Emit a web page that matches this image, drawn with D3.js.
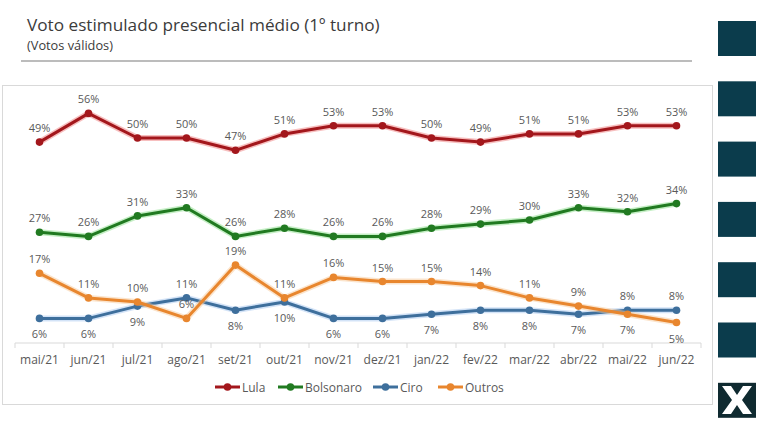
<!DOCTYPE html>
<html><head><meta charset="utf-8">
<script src="https://cdn.jsdelivr.net/npm/d3@7/dist/d3.min.js"></script>
<style>
html,body{margin:0;padding:0;background:#fff;}
svg{display:block;font-family:"Open Sans",sans-serif;}
</style></head><body>
<script>
const months = ["mai/21","jun/21","jul/21","ago/21","set/21","out/21","nov/21","dez/21","jan/22","fev/22","mar/22","abr/22","mai/22","jun/22"];
const lula      = [49,56,50,50,47,51,53,53,50,49,51,51,53,53];
const bolsonaro = [27,26,31,33,26,28,26,26,28,29,30,33,32,34];
const ciro      = [6,6,9,11,8,10,6,6,7,8,8,7,8,8];
const outros    = [17,11,10,6,19,11,16,15,15,14,11,9,7,5];
const seriesNames = ["Lula","Bolsonaro","Ciro","Outros"];
const title = "Voto estimulado presencial médio (1º turno)";
const subtitle = "(Votos válidos)";

const W = 768, H = 425;
const svg = d3.select("body").append("svg").attr("width", W).attr("height", H);

function fitText(sel, width) {
  const len = sel.node().getComputedTextLength();
  const fs = parseFloat(sel.attr("font-size"));
  sel.attr("font-size", fs * width / len);
}

// Title
const t = svg.append("text").attr("x", 27).attr("y", 31).attr("font-size", 18)
  .attr("fill", "#3b3b3b").text(title);
fitText(t, 353);
const st = svg.append("text").attr("x", 27).attr("y", 50).attr("font-size", 12)
  .attr("fill", "#3b3b3b").text(subtitle);
fitText(st, 86);
svg.append("line").attr("x1", 21).attr("x2", 692).attr("y1", 61).attr("y2", 61)
  .attr("stroke", "#a6a6a6").attr("stroke-width", 1.5);

// Chart box
svg.append("rect").attr("x", 2.5).attr("y", 85.5).attr("width", 710).attr("height", 319)
  .attr("fill", "#fff").attr("stroke", "#d9d9d9").attr("stroke-width", 1);

// Right decoration squares
const deco = d3.range(7);
svg.selectAll("rect.deco").data(deco).join("rect").attr("class", "deco")
  .attr("x", 718).attr("y", d => 21 + d * 60.3).attr("width", 38).attr("height", 35)
  .attr("fill", (d) => d === 6 ? "#0f2a30" : "#0b3c4c");
// X logo
const xg = svg.append("g").attr("transform", "translate(737,400)");
xg.append("path").attr("d", "M-15,-14 L-6,-14 L0,-5 L6,-14 L15,-14 L5,0 L15,14 L6,14 L0,5 L-6,14 L-15,14 L-5,0 Z")
  .attr("fill", "#fff");

// Scales
const x = d3.scaleBand().domain(months).range([15, 701]);
const y = d3.scaleLinear().domain([0, 60]).range([343, 97]);
const xc = m => x(m) + x.bandwidth() / 2;

// Axis
const axis = svg.append("g").attr("transform", "translate(0,343)");
axis.append("line").attr("x1", 15).attr("x2", 701).attr("stroke", "#d9d9d9").attr("stroke-width", 1);
axis.selectAll("line.tk").data(months.concat(["end"])).join("line").attr("class", "tk")
  .attr("x1", (d, i) => i < months.length ? x(d) : 701)
  .attr("x2", (d, i) => i < months.length ? x(d) : 701)
  .attr("y1", 0).attr("y2", 5).attr("stroke", "#d9d9d9");
axis.selectAll("text").data(months).join("text")
  .attr("x", d => xc(d)).attr("y", 21).attr("text-anchor", "middle")
  .attr("font-size", 12).attr("fill", "#595959").text(d => d);

const series = [
  {name: "Lula", values: lula, color: "#a3171c", glow: "#f08080", above: () => true},
  {name: "Bolsonaro", values: bolsonaro, color: "#217a21", glow: "#8be08b", above: () => true},
  {name: "Ciro", values: ciro, color: "#3e6f9c", glow: "#a8c8f0", above: i => [3,12,13].includes(i)},
  {name: "Outros", values: outros, color: "#e8862e", glow: "#f8c99a", above: i => ![12,13].includes(i)}
];

const line = d3.line().x((d, i) => xc(months[i])).y(d => y(d));

series.forEach(s => {
  const g = svg.append("g");
  g.append("path").datum(s.values).attr("d", line).attr("fill", "none")
    .attr("stroke", s.glow).attr("stroke-opacity", 0.5).attr("stroke-width", 6)
    .attr("stroke-linejoin", "round");
  g.append("path").datum(s.values).attr("d", line).attr("fill", "none")
    .attr("stroke", s.color).attr("stroke-width", 3).attr("stroke-linejoin", "round");
  g.selectAll("circle").data(s.values).join("circle")
    .attr("cx", (d, i) => xc(months[i])).attr("cy", d => y(d)).attr("r", 3.8)
    .attr("fill", s.color);
});
series.forEach(s => {
  svg.append("g").selectAll("text").data(s.values).join("text")
    .attr("x", (d, i) => xc(months[i]))
    .attr("y", (d, i) => s.above(i) ? y(d) - 10 : y(d) + 20)
    .attr("text-anchor", "middle").attr("font-size", 11).attr("fill", "#595959")
    .text(d => d + "%");
});

// Legend
const legX = [215, 278, 373, 438];
const leg = svg.append("g").attr("transform", "translate(0,387)");
series.forEach((s, i) => {
  const lg = leg.append("g").attr("transform", `translate(${legX[i]},0)`);
  lg.append("line").attr("x1", 0).attr("x2", 25).attr("stroke", s.color).attr("stroke-width", 3);
  lg.append("circle").attr("cx", 12.5).attr("r", 3.8).attr("fill", s.color);
  lg.append("text").attr("x", 27).attr("y", 4.5).attr("font-size", 12).attr("fill", "#595959").text(seriesNames[i]);
});
</script>
</body></html>
